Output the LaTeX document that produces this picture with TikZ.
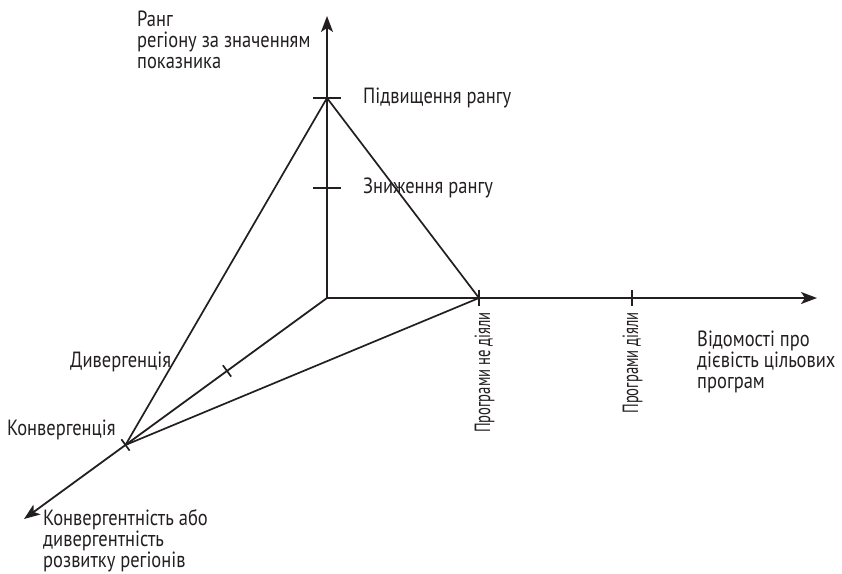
\documentclass[tikz,border=0pt]{standalone}
\usepackage{fontspec}
\setmainfont[FakeStretch=0.84]{PT Sans}
\newfontfamily\narrowfont[FakeStretch=0.665]{PT Sans}
\usetikzlibrary{arrows.meta,calc}
\definecolor{ink}{HTML}{231F20}
\begin{document}
\begin{tikzpicture}[x=1pt,y=-1pt,
  axis/.style={line width=1.8pt,draw=ink,-{Stealth[length=16pt,width=12pt,inset=4pt]}},
  ln/.style={line width=1.7pt,draw=ink},
  lbl/.style={text=ink,inner sep=0pt,font=\fontsize{22}{21}\selectfont,align=left},
  vlbl/.style={text=ink,inner sep=0pt,font=\narrowfont\fontsize{22}{21}\selectfont,rotate=90,anchor=base east}]
\useasboundingbox (0,0) rectangle (842,573);
\coordinate (O) at (327,298);
\coordinate (Yt) at (327,16);
\coordinate (Xt) at (817,298);
\coordinate (Zt) at (24,519);
\coordinate (A) at (327,98);
\coordinate (B) at (327,188);
\coordinate (P1) at (479,298);
\coordinate (P2) at (632,298);
\coordinate (K) at ($(O)!0.665!(Zt)$);
\coordinate (D) at ($(O)!0.33!(Zt)$);
% axes
\draw[axis] (O) -- (Yt);
\draw[axis] (O) -- (Xt);
\draw[axis] (O) -- (Zt);
% ticks
\draw[ln] ($(A)+(-14,0)$) -- ($(A)+(14,0)$);
\draw[ln] ($(B)+(-14,0)$) -- ($(B)+(14,0)$);
\draw[ln] ($(P1)+(0,-8)$) -- ($(P1)+(0,8)$);
\draw[ln] ($(P2)+(0,-8)$) -- ($(P2)+(0,8)$);
\draw[ln] ($(K)!7pt!90:(O)$) -- ($(K)!7pt!-90:(O)$);
\draw[ln] ($(D)!7pt!90:(O)$) -- ($(D)!7pt!-90:(O)$);
% triangle lines
\draw[ln] (A) -- (K);
\draw[ln] (A) -- (P1);
\draw[ln] (K) -- (P1);
% labels
\node[lbl,anchor=north west] (ly) at (137,11) {Ранг\\регіону за значенням\\показника};
\node[lbl,anchor=base west] (la) at (363,103) {Підвищення рангу};
\node[lbl,anchor=base west] (lb) at (363,193) {Зниження рангу};
\node[lbl,anchor=base west] (ld) at (70,367) {Дивергенція};
\node[lbl,anchor=base west] (lk) at (7,435) {Конвергенція};
\node[lbl,anchor=north west] (lz) at (43,509) {Конвергентність або\\дивергентність\\розвитку регіонів};
\node[lbl,anchor=north west] (lx) at (697,331) {Відомості про\\дієвість цільових\\програм};
\node[vlbl] (lp1) at (490,312) {Програми не діяли};
\node[vlbl] (lp2) at (638,312) {Програми діяли};
\end{tikzpicture}
\end{document}
